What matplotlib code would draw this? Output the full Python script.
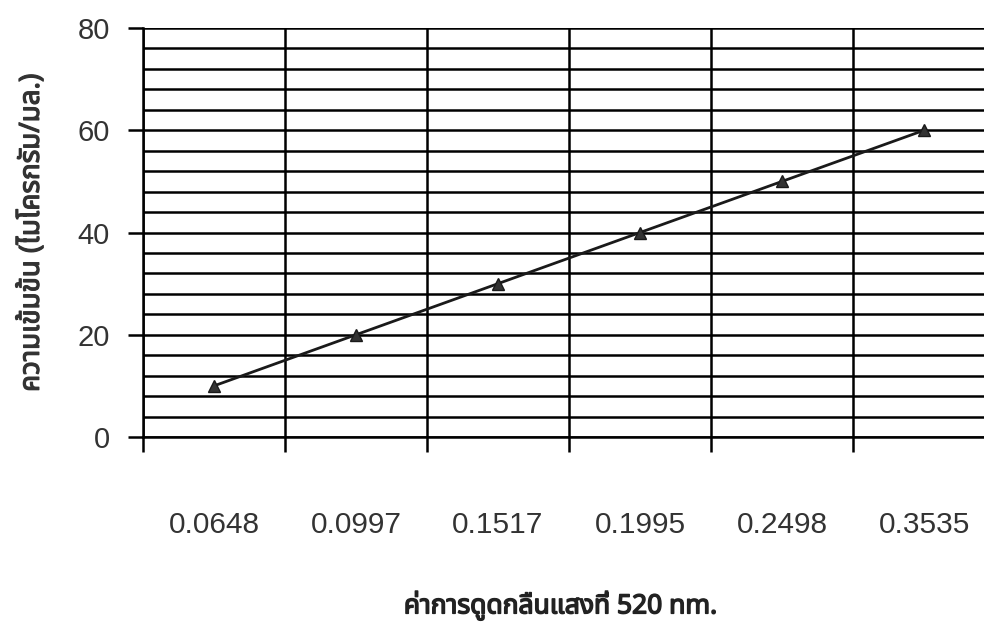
import numpy as np
import matplotlib
matplotlib.use('Agg')
import matplotlib.pyplot as plt
import matplotlib.patheffects as pe
from matplotlib import font_manager
from matplotlib.ft2font import FT2Font
from matplotlib.ticker import MultipleLocator, FixedLocator

# ── 数据 ──
absorbance = ['0.0648', '0.0997', '0.1517', '0.1995', '0.2498', '0.3535']
concentration = [10, 20, 30, 40, 50, 60]

# ── 字体：找一个带泰文字形的字体 ──
def find_thai_font():
    preferred = ['Noto Sans Thai', 'Noto Sans Thai UI', 'Loma', 'Garuda',
                 'Tlwg Typo', 'Sarabun', 'Norasi']
    found = {}
    for f in font_manager.fontManager.ttflist:
        try:
            cmap = FT2Font(f.fname).get_charmap()
        except Exception:
            continue
        if 0x0E01 in cmap and 0x0E48 in cmap:
            found.setdefault(f.name, f.fname)
    for name in preferred:
        if name in found:
            return name
    return next(iter(found), None)

thai = find_thai_font()
families = ([thai] if thai else []) + ['Liberation Sans', 'DejaVu Sans']
plt.rcParams['font.family'] = ['Liberation Sans', 'DejaVu Sans']

fig = plt.figure(figsize=(9.84, 6.37), dpi=100)
ax = fig.add_axes([0.1453, 0.314, 0.866, 0.642])

x = np.arange(len(absorbance))
ax.plot(x, concentration, color='#1a1a1a', linewidth=2, marker='^',
        markersize=8, markerfacecolor='#333333', markeredgecolor='#1a1a1a',
        zorder=5, clip_on=False)

ax.set_xlim(-0.5, len(absorbance) - 0.5)
ax.set_ylim(0, 80)

# x 轴：类别标签在中间，刻度线在边界
ax.set_xticks(x)
ax.set_xticklabels(absorbance, fontsize=21.5, color='#333333')
ax.tick_params(axis='x', which='major', length=0, pad=53)
ax.xaxis.set_minor_locator(FixedLocator(np.arange(-0.5, len(absorbance), 1.0)))
ax.tick_params(axis='x', which='minor', length=11, width=1.8, color='black',
               direction='out')

# y 轴
ax.yaxis.set_major_locator(MultipleLocator(20))
ax.yaxis.set_minor_locator(MultipleLocator(4))
ax.tick_params(axis='y', which='major', length=11, width=1.8, pad=13,
               labelsize=21, labelcolor='#333333')
ax.tick_params(axis='y', which='minor', length=0)

ax.grid(True, which='minor', color='black', linewidth=1.8)
ax.grid(True, which='major', axis='y', color='black', linewidth=1.8)
ax.set_axisbelow(True)

for s in ['top', 'right']:
    ax.spines[s].set_visible(False)
for s in ['left', 'bottom']:
    ax.spines[s].set_linewidth(1.8)

# 泰文字体没有粗体，用描边模拟
bold_y = [pe.withStroke(linewidth=0.9, foreground='#333333')]
bold_x = [pe.withStroke(linewidth=1.1, foreground='#222222')]

ax.set_ylabel('ความเข้มข้น (ไมโครกรัม/มล.)', family=families, fontsize=20,
              fontweight='bold', color='#333333', path_effects=bold_y)
ax.yaxis.set_label_coords(-0.114, 0.5)
ax.set_xlabel('ค่าการดูดกลืนแสงที่ 520 nm.', family=families, fontsize=19,
              fontweight='bold', color='#222222', path_effects=bold_x)
ax.xaxis.set_label_coords(0.49, -0.375)

plt.savefig('out.png', dpi=100, facecolor='white')
plt.close()
